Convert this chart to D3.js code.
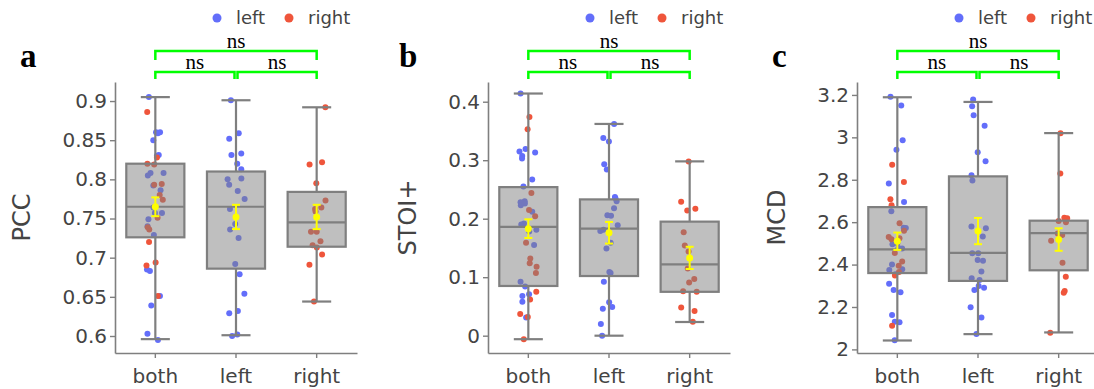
<!DOCTYPE html>
<html>
<head>
<meta charset="utf-8">
<script src="https://cdn.jsdelivr.net/npm/d3@7"></script>
<style>
  body { margin: 0; background: #fff; }
  svg { display: block; }
</style>
</head>
<body>
<div id="chart"></div>
<script>
const categories = ['both', 'left', 'right'];

// PCC
const pccBothLeft = [0.905, 0.860, 0.860, 0.859, 0.850, 0.831, 0.830, 0.808, 0.808, 0.805, 0.792, 0.786, 0.764, 0.757, 0.757, 0.749, 0.740, 0.729, 0.685, 0.683, 0.651, 0.639, 0.603, 0.595];
const pccBothRight = [0.886, 0.828, 0.820, 0.819, 0.794, 0.793, 0.780, 0.774, 0.751, 0.739, 0.736, 0.720, 0.694, 0.690, 0.651];
const pccLeft = [0.901, 0.859, 0.852, 0.833, 0.831, 0.820, 0.813, 0.801, 0.800, 0.793, 0.785, 0.775, 0.762, 0.743, 0.736, 0.725, 0.692, 0.679, 0.654, 0.632, 0.629, 0.602, 0.600];
const pccRight = [0.892, 0.822, 0.819, 0.795, 0.773, 0.764, 0.762, 0.759, 0.733, 0.733, 0.721, 0.716, 0.713, 0.704, 0.691, 0.644];
// [lower whisker, q1, median, q3, upper whisker]
const pccBox = [[0.596, 0.726, 0.765, 0.820, 0.905], [0.601, 0.686, 0.765, 0.810, 0.901], [0.644, 0.714, 0.745, 0.784, 0.892]];
const pccMean = [0.765, 0.752, 0.752];
const pccErr = [0.012, 0.0155, 0.0155];
const pccRange = [0.5783, 0.9243];
const pccTicks = [0.6, 0.65, 0.7, 0.75, 0.8, 0.85, 0.9];
const pccTickLabels = ['0.6', '0.65', '0.7', '0.75', '0.8', '0.85', '0.9'];

// STOI+
const stoiBothLeft = [0.414, 0.319, 0.315, 0.313, 0.307, 0.303, 0.267, 0.255, 0.230, 0.228, 0.226, 0.223, 0.212, 0.192, 0.190, 0.181, 0.178, 0.155, 0.092, 0.084, 0.071, 0.068, 0.058, 0.031];
const stoiBothRight = [0.374, 0.353, 0.244, 0.215, 0.204, 0.159, 0.132, 0.124, 0.118, 0.107, 0.075, 0.062, 0.037, 0.032, -0.006];
const stoiLeft = [0.362, 0.338, 0.332, 0.293, 0.284, 0.237, 0.235, 0.230, 0.218, 0.206, 0.205, 0.189, 0.181, 0.179, 0.159, 0.149, 0.109, 0.107, 0.092, 0.057, 0.049, 0.046, 0.020, 0.000];
const stoiRight = [0.298, 0.229, 0.217, 0.214, 0.177, 0.154, 0.144, 0.115, 0.097, 0.091, 0.076, 0.075, 0.048, 0.042, 0.024];
const stoiBox = [[-0.006, 0.085, 0.186, 0.254, 0.414], [0.0, 0.102, 0.183, 0.233, 0.362], [0.0234, 0.075, 0.122, 0.195, 0.298]];
const stoiMean = [0.183, 0.176, 0.133];
const stoiErr = [0.016, 0.0185, 0.019];
const stoiRange = [-0.0296, 0.4337];
const stoiTicks = [0, 0.1, 0.2, 0.3, 0.4];
const stoiTickLabels = ['0', '0.1', '0.2', '0.3', '0.4'];

// MCD
const mcdBothLeft = [3.191, 3.150, 2.986, 2.941, 2.782, 2.695, 2.651, 2.574, 2.572, 2.500, 2.496, 2.478, 2.476, 2.400, 2.378, 2.375, 2.354, 2.309, 2.280, 2.270, 2.162, 2.130, 2.128, 2.043];
const mcdBothRight = [2.871, 2.790, 2.708, 2.680, 2.595, 2.560, 2.530, 2.524, 2.520, 2.455, 2.414, 2.395, 2.365, 2.348, 2.112];
const mcdLeft = [3.178, 3.147, 3.104, 3.055, 2.930, 2.887, 2.821, 2.796, 2.579, 2.571, 2.532, 2.453, 2.453, 2.422, 2.418, 2.367, 2.335, 2.327, 2.299, 2.291, 2.280, 2.199, 2.150, 2.073];
const mcdRight = [3.019, 2.829, 2.621, 2.618, 2.605, 2.600, 2.547, 2.540, 2.520, 2.512, 2.409, 2.343, 2.275, 2.267, 2.078];
const mcdBox = [[2.042, 2.360, 2.472, 2.671, 3.189], [2.072, 2.323, 2.455, 2.816, 3.167], [2.080, 2.373, 2.548, 2.607, 3.020]];
const mcdMean = [2.510, 2.558, 2.518];
const mcdErr = [0.041, 0.062, 0.053];
const mcdRange = [1.983, 3.261];
const mcdTicks = [2, 2.2, 2.4, 2.6, 2.8, 3, 3.2];
const mcdTickLabels = ['2', '2.2', '2.4', '2.6', '2.8', '3', '3.2'];

const sigLabels = ['ns', 'ns', 'ns'];

const panels = [
    { letter: 'a', title: 'PCC', range: pccRange, ticks: pccTicks, tickLabels: pccTickLabels,
      groups: [{ left: pccBothLeft, right: pccBothRight }, { left: pccLeft, right: [] }, { left: [], right: pccRight }],
      box: pccBox, mean: pccMean, err: pccErr },
    { letter: 'b', title: 'STOI+', range: stoiRange, ticks: stoiTicks, tickLabels: stoiTickLabels,
      groups: [{ left: stoiBothLeft, right: stoiBothRight }, { left: stoiLeft, right: [] }, { left: [], right: stoiRight }],
      box: stoiBox, mean: stoiMean, err: stoiErr },
    { letter: 'c', title: 'MCD', range: mcdRange, ticks: mcdTicks, tickLabels: mcdTickLabels,
      groups: [{ left: mcdBothLeft, right: mcdBothRight }, { left: mcdLeft, right: [] }, { left: [], right: mcdRight }],
      box: mcdBox, mean: mcdMean, err: mcdErr }
];

const W = 1094, H = 389;
const plotTop = 82, plotBottom = 353, plotWidth = 242;
const panelX = [115, 488, 857];
const letterX = [20, 399, 772];

const colors = {
    left: '#636efa',
    right: '#ef553b',
    line: '#7f7f7f',
    boxFill: 'rgba(128,128,128,0.5)',
    mean: '#ffff00',
    sig: '#00ff00',
    text: '#444'
};
const sans = '"DejaVu Sans", sans-serif';
const serif = '"Liberation Serif", "Times New Roman", serif';

// small seeded generator, only used for horizontal jitter of the dots
function mulberry32(a) {
    return function () {
        a |= 0; a = a + 0x6D2B79F5 | 0;
        let t = Math.imul(a ^ a >>> 15, 1 | a);
        t = t + Math.imul(t ^ t >>> 7, 61 | t) ^ t;
        return ((t ^ t >>> 14) >>> 0) / 4294967296;
    };
}

const svg = d3.select('#chart').append('svg')
    .attr('width', W)
    .attr('height', H);

panels.forEach((p, pi) => {
    const x0 = panelX[pi];
    const g = svg.append('g');

    const x = d3.scaleBand().domain(categories).range([x0, x0 + plotWidth]).padding(0);
    const y = d3.scaleLinear().domain(p.range).range([plotBottom, plotTop]);
    const bw = x.bandwidth();
    const boxW = bw * 0.72;
    const cx = c => x(c) + bw / 2;

    // axes
    const yAxis = g.append('g')
        .attr('transform', `translate(${x0},0)`)
        .call(d3.axisLeft(y).tickValues(p.ticks).tickFormat((d, i) => p.tickLabels[i]).tickSize(5).tickSizeOuter(0).tickPadding(3));
    const xAxis = g.append('g')
        .attr('transform', `translate(0,${plotBottom})`)
        .call(d3.axisBottom(x).tickSize(5).tickSizeOuter(0).tickPadding(6));
    [yAxis, xAxis].forEach(a => {
        a.select('.domain').attr('stroke', colors.line).attr('stroke-width', 1.6);
        a.selectAll('.tick line').attr('stroke', colors.line).attr('stroke-width', 1.4);
        a.selectAll('.tick text').attr('fill', colors.text).style('font-family', sans).style('font-size', '20px');
    });
    xAxis.selectAll('.tick text').attr('dy', '0.95em');

    // y title, placed left of the widest tick label
    let minX = Infinity;
    yAxis.selectAll('.tick text').each(function () {
        const b = this.getBBox();
        minX = Math.min(minX, x0 - 8 - b.width);
    });
    g.append('text')
        .attr('transform', `translate(${minX - 40},${(plotTop + plotBottom) / 2}) rotate(-90)`)
        .attr('text-anchor', 'middle')
        .attr('dominant-baseline', 'central')
        .attr('fill', colors.text)
        .style('font-family', sans)
        .style('font-size', '24px')
        .text(p.title);

    // dots
    p.groups.forEach((grp, ci) => {
        const rnd = mulberry32(101 + pi * 17 + ci * 5);
        const pts = [];
        grp.left.forEach(v => pts.push({ v, side: 'left' }));
        grp.right.forEach(v => pts.push({ v, side: 'right' }));
        pts.forEach(d => { d.dx = (rnd() - 0.5) * 2 * 0.11 * bw; });
        g.append('g').selectAll('circle')
            .data(pts)
            .join('circle')
            .attr('cx', d => cx(categories[ci]) + d.dx)
            .attr('cy', d => y(d.v))
            .attr('r', 3)
            .attr('fill', d => colors[d.side]);
    });

    // boxes drawn over the dots, with a half transparent fill
    p.box.forEach((b, ci) => {
        const c = cx(categories[ci]);
        const [lw, q1, med, q3, uw] = b;
        const bg = g.append('g')
            .attr('stroke', colors.line)
            .attr('stroke-width', 2.2);
        bg.append('line').attr('x1', c).attr('x2', c).attr('y1', y(q3)).attr('y2', y(uw));
        bg.append('line').attr('x1', c).attr('x2', c).attr('y1', y(q1)).attr('y2', y(lw));
        bg.append('line').attr('x1', c - boxW / 4).attr('x2', c + boxW / 4).attr('y1', y(uw)).attr('y2', y(uw));
        bg.append('line').attr('x1', c - boxW / 4).attr('x2', c + boxW / 4).attr('y1', y(lw)).attr('y2', y(lw));
        bg.append('rect')
            .attr('x', c - boxW / 2)
            .attr('y', y(q3))
            .attr('width', boxW)
            .attr('height', y(q1) - y(q3))
            .attr('fill', colors.boxFill);
        bg.append('line').attr('x1', c - boxW / 2).attr('x2', c + boxW / 2).attr('y1', y(med)).attr('y2', y(med));
    });

    // mean with error bars
    p.mean.forEach((m, ci) => {
        const c = cx(categories[ci]);
        const e = p.err[ci];
        const mg = g.append('g').attr('stroke', colors.mean).attr('stroke-width', 2);
        mg.append('line').attr('x1', c).attr('x2', c).attr('y1', y(m - e)).attr('y2', y(m + e));
        mg.append('line').attr('x1', c - 4).attr('x2', c + 4).attr('y1', y(m - e)).attr('y2', y(m - e));
        mg.append('line').attr('x1', c - 4).attr('x2', c + 4).attr('y1', y(m + e)).attr('y2', y(m + e));
        mg.append('circle').attr('cx', c).attr('cy', y(m)).attr('r', 3.5).attr('fill', colors.mean).attr('stroke', 'none');
    });

    // significance brackets
    const brackets = [
        { x1: cx('both'), x2: cx('right'), top: 51, drop: 60, label: sigLabels[0] },
        { x1: cx('both'), x2: cx('left') - 1.5, top: 72, drop: 79, label: sigLabels[1] },
        { x1: cx('left') + 1.5, x2: cx('right'), top: 72, drop: 79, label: sigLabels[2] }
    ];
    brackets.forEach(b => {
        g.append('path')
            .attr('d', `M${b.x1},${b.drop}V${b.top}H${b.x2}V${b.drop}`)
            .attr('fill', 'none')
            .attr('stroke', colors.sig)
            .attr('stroke-width', 2.5);
        g.append('text')
            .attr('x', (b.x1 + b.x2) / 2)
            .attr('y', b.top - 3)
            .attr('text-anchor', 'middle')
            .attr('fill', '#000')
            .style('font-family', serif)
            .style('font-size', '21px')
            .text(b.label);
    });

    // legend
    const legendItems = [{ key: 'left', dx: 102 }, { key: 'right', dx: 174 }];
    legendItems.forEach(it => {
        g.append('circle')
            .attr('cx', x0 + it.dx)
            .attr('cy', 18)
            .attr('r', 4.5)
            .attr('fill', colors[it.key]);
        g.append('text')
            .attr('x', x0 + it.dx + 19)
            .attr('y', 24)
            .attr('fill', colors.text)
            .style('font-family', sans)
            .style('font-size', '18px')
            .text(it.key);
    });

    // panel letter
    g.append('text')
        .attr('x', letterX[pi])
        .attr('y', 67)
        .attr('fill', '#000')
        .style('font-family', serif)
        .style('font-weight', 'bold')
        .style('font-size', '33px')
        .text(p.letter);
});
</script>
</body>
</html>
